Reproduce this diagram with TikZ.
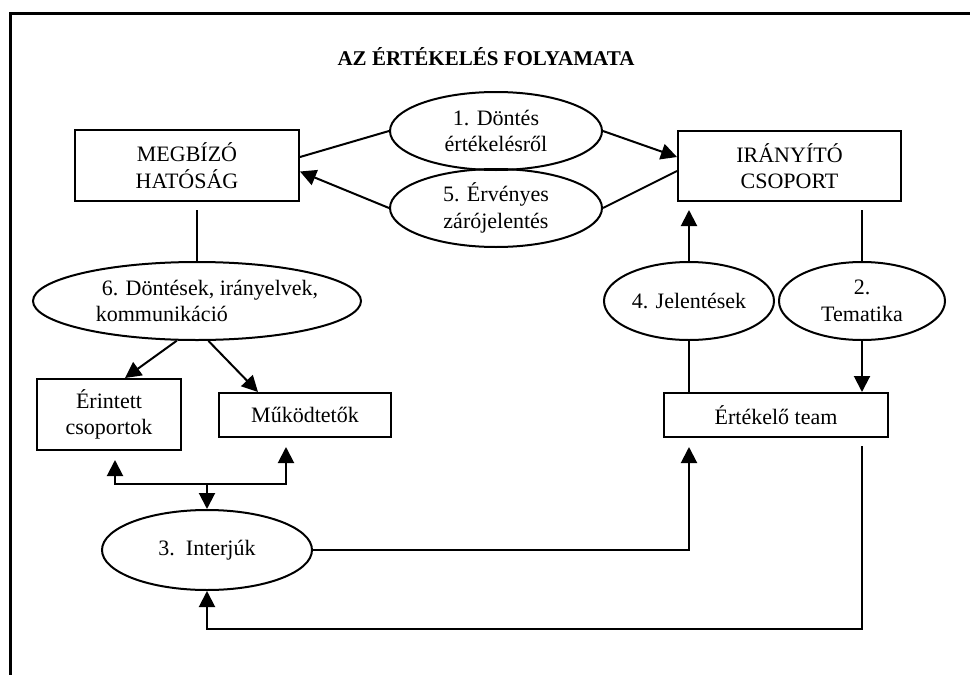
\documentclass[tikz,border=0pt]{standalone}
\usepackage{fontspec}
\setmainfont{Liberation Serif}
\usetikzlibrary{arrows.meta,shapes.geometric,calc}
\begin{document}
\begin{tikzpicture}[x=1pt,y=-1pt,
  every node/.style={font=\fontsize{22}{26.5}\selectfont, inner sep=0pt, align=center},
  box/.style={draw, line width=2pt, rectangle},
  oval/.style={draw, line width=2pt, ellipse},
  conn/.style={line width=2pt},
  arr/.style={conn, -{Triangle[length=16pt,width=16pt]}},
]
\useasboundingbox (0,0) rectangle (970,675);
\draw[line width=3pt] (975,13) -- (10.5,13) -- (10.5,680);

\node (title) at (486,57) {\bfseries\fontsize{21}{25}\selectfont AZ ÉRTÉKELÉS FOLYAMATA};

\node[box, minimum width=224pt, minimum height=71pt] (megbizo) at (187,165.5) {MEGBÍZÓ\\HATÓSÁG};
\node[box, minimum width=223pt, minimum height=70pt] (iranyito) at (789.5,166) {IRÁNYÍTÓ\\CSOPORT};
\node[oval, minimum width=212pt, minimum height=78pt] (e1) at (496,131) {1. Döntés\\értékelésről};
\node[oval, minimum width=212pt, minimum height=78pt] (e5) at (496,208) {5. Érvényes\\zárójelentés};
\node[oval, minimum width=328pt, minimum height=78pt,
  label={[align=left, xshift=10pt]center:{\hspace*{6pt}6. Döntések, irányelvek,\\kommunikáció}}] (e6) at (197,301) {};
\node[oval, minimum width=170pt, minimum height=78pt] (e4) at (689,301) {4. Jelentések};
\node[oval, minimum width=166pt, minimum height=78pt] (e2) at (862,301) {2.\\Tematika};
\node[box, minimum width=224pt, minimum height=44pt] (ert) at (776,415) {Értékelő team};
\node[box, minimum width=144pt, minimum height=71pt] (erin) at (109,414.5) {Érintett\\csoportok};
\node[box, minimum width=172pt, minimum height=44pt] (muk) at (305,415) {Működtetők};
\node[oval, minimum width=210pt, minimum height=80pt] (e3) at (207,550) {3.\ \ Interjúk};

\draw[conn] ($(megbizo.east)+(0,-8.5)$) -- (e1.west);
\draw[arr] (e5.west) -- ($(megbizo.east)+(0,6)$);
\draw[arr] (e1.east) -- ($(iranyito.west)+(0,-9)$);
\draw[conn] ($(iranyito.west)+(0,5)$) -- (e5.east);
\draw[arr] (e4.north) -- ($(e4.north |- iranyito.south)+(0,8)$);
\draw[conn] ($(e2.north |- iranyito.south)+(0,8)$) -- (e2.north);
\draw[arr] (e2.south) -- (e2.south |- ert.north);
\draw[conn] (e4.south) -- (e4.south |- ert.north);
\draw[conn] ($(e6.north |- megbizo.south)+(0,8)$) -- (e6.north);

\draw[arr] (e6.243) -- ($(erin.north)+(16,0)$);
\draw[arr] (e6.286) -- ($(muk.north)+(-47,0)$);

\coordinate (j) at ($(e3.north)+(0,-25)$);
\draw[arr] (j) -- (e3.north);
\draw[arr] (j) -| ($(erin.south)+(6,9)$);
\draw[arr] (j) -| ($(muk.south)+(-19,9)$);

\draw[arr] (e3.east) -| ($(ert.south -| e4.south)+(0,9)$);
\coordinate (c1) at ($(ert.south -| e2.south)+(0,191)$);
\draw[arr] ($(ert.south -| e2.south)+(0,8)$) -- (c1) -| (e3.south);
\end{tikzpicture}
\end{document}
